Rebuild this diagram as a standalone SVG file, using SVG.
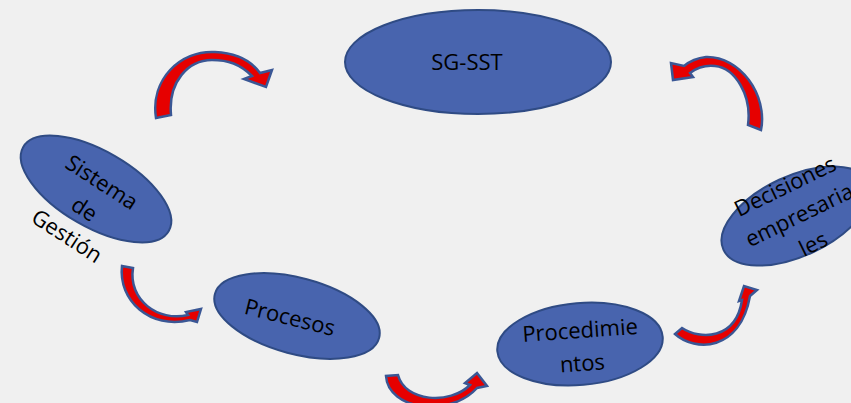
<svg xmlns="http://www.w3.org/2000/svg" width="851" height="403" viewBox="0 0 851 403">
<style>
.node{fill:#4864ae;stroke:#2f4b84;stroke-width:2}
.lbl{font-family:"Open Sans","Liberation Sans",sans-serif;font-size:22px;fill:#000;text-anchor:middle}
.arr{fill:#e60000;stroke:#3a5795;stroke-width:2.5;stroke-linejoin:miter}
</style>
<rect width="851" height="403" fill="#f0f0f0"/>
<g id="connectors">
<path class="arr" d="M156,118 C150,80 180,50 215,52 C238,53 252,62 260,73 L272,70 L266,87 L244,79 L252,76 C240,64 228,60 212,60 C188,60 168,82 171,115 Z"/>
<path class="arr" d="M761,130 C768,95 740,56 706,57 C697,58 690,61 684,66 L671,63 L673,80 L693,77 L690,73 C698,67 706,65 715,66 C735,68 752,95 748,125 Z"/>
<path class="arr" d="M122,266 C118,300 150,330 190,320 L197,322 L201,309 L186,312 L188,315 C158,322 128,300 133,268 Z"/>
<path class="arr" d="M386,376 C388,410 450,418 477,388 L487,386 L477,373 L465,383 L470,385 C450,405 405,402 398,375 Z"/>
<path class="arr" d="M675,334 C695,352 740,352 750,296 L757,290 L744,286 L739,301 L742,300 C736,340 700,340 682,328 Z"/>
</g>
<g id="sgsst">
<ellipse class="node" cx="478" cy="62" rx="133" ry="52"/>
<text class="lbl" x="467" y="70">SG-SST</text>
</g>
<g id="sistema">
<ellipse class="node" cx="96" cy="189" rx="84" ry="38" transform="rotate(30 96 189)"/>
<g transform="translate(102 182) rotate(33)">
<text class="lbl" x="0" y="8">Sistema</text>
<text class="lbl" x="0" y="40">de</text>
<text class="lbl" x="0" y="72">Gestión</text>
</g>
</g>
<g id="decisiones">
<ellipse class="node" cx="796" cy="216" rx="80" ry="40" transform="rotate(-25 796 216)"/>
<g transform="translate(785 186) rotate(-26)">
<text class="lbl" x="0" y="8">Decisiones</text>
<text class="lbl" x="0" y="40">empresaria</text>
<text class="lbl" x="0" y="72">les</text>
</g>
</g>
<g id="procesos">
<ellipse class="node" cx="297" cy="316" rx="85" ry="38" transform="rotate(15 297 316)"/>
<text class="lbl" x="290" y="325" transform="rotate(14 290 317)">Procesos</text>
</g>
<g id="procedimientos">
<ellipse class="node" cx="580" cy="344" rx="83" ry="41" transform="rotate(-5 580 344)"/>
<g transform="translate(580 330) rotate(-4)">
<text class="lbl" x="0" y="8">Procedimie</text>
<text class="lbl" x="0" y="41">ntos</text>
</g>
</g>
</svg>
